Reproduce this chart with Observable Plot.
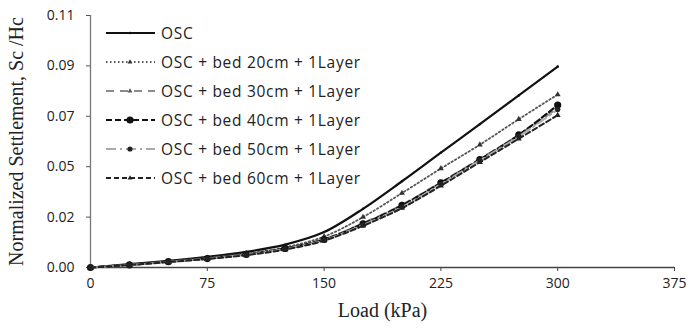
<!DOCTYPE html>
<html>
<head>
<meta charset="utf-8">
<script src="https://cdn.jsdelivr.net/npm/d3@7"></script>
<script src="https://cdn.jsdelivr.net/npm/@observablehq/plot@0.6"></script>
<style>
  html, body { margin: 0; padding: 0; background: #fff; }
  #wrap { position: relative; width: 690px; height: 328px; }
  #legend { position: absolute; left: 105px; top: 18px; font-family: "Open Sans", sans-serif; font-size: 15.5px; letter-spacing: 0.7px; color: #222; }
  #legend .row { height: 29px; display: flex; align-items: center; white-space: nowrap; }
  #legend svg { margin-right: 4px; }
  g[aria-label="x-axis label"] text, g[aria-label="y-axis label"] text { font-family: "Liberation Serif", "DejaVu Serif", serif; font-size: 20px; fill: #222; }
</style>
</head>
<body>
<div id="wrap"></div>
<script>
const loads = [0, 25, 50, 75, 100, 125, 150, 175, 200, 225, 250, 275, 300];
const osc   = [0, 0.0015, 0.0030, 0.0048, 0.0070, 0.0102, 0.0158, 0.0262, 0.0385, 0.0513, 0.0640, 0.0768, 0.0897];
const bed20 = [0, 0.0013, 0.0027, 0.0043, 0.0062, 0.0090, 0.0138, 0.0225, 0.0332, 0.0442, 0.0548, 0.0662, 0.0772];
const bed30 = [0, 0.0012, 0.0026, 0.0040, 0.0058, 0.0085, 0.0127, 0.0198, 0.0280, 0.0380, 0.0485, 0.0590, 0.0712];
const bed40 = [0, 0.0012, 0.0026, 0.0040, 0.0058, 0.0085, 0.0125, 0.0195, 0.0277, 0.0378, 0.0482, 0.0592, 0.0725];
const bed50 = [0, 0.0011, 0.0025, 0.0039, 0.0057, 0.0083, 0.0122, 0.0190, 0.0270, 0.0372, 0.0478, 0.0585, 0.0705];
const bed60 = [0, 0.0011, 0.0024, 0.0038, 0.0055, 0.0080, 0.0120, 0.0186, 0.0265, 0.0365, 0.0470, 0.0575, 0.0680];

const seriesNames = ["OSC", "OSC + bed 20cm + 1Layer", "OSC + bed 30cm + 1Layer", "OSC + bed 40cm + 1Layer", "OSC + bed 50cm + 1Layer", "OSC + bed 60cm + 1Layer"];
const seriesValues = [osc, bed20, bed30, bed40, bed50, bed60];

const xTicks = [0, 75, 150, 225, 300, 375];
const yTicks = [0, 0.0225, 0.045, 0.0675, 0.09, 0.1125];
const yTickLabels = ["0.00", "0.02", "0.05", "0.07", "0.09", "0.11"];

const styles = [
  {stroke: "#111", width: 2.2, dash: null, symbol: "circle", r: 1.2, fill: "#111"},
  {stroke: "#555", width: 1.8, dash: "1.5,2.5", symbol: "triangle", r: 2.2, fill: "#333"},
  {stroke: "#8a8a8a", width: 2, dash: "8,6", symbol: "triangle", r: 2.2, fill: "#555"},
  {stroke: "#111", width: 2.2, dash: "6,3", symbol: "circle", r: 3.6, fill: "#111"},
  {stroke: "#aaa", width: 2, dash: "10,4,2,4", symbol: "circle", r: 2.6, fill: "#222"},
  {stroke: "#222", width: 2, dash: "5,3", symbol: "triangle", r: 2.2, fill: "#222"}
];

const marks = [
  Plot.ruleY([0], {stroke: "#444", strokeWidth: 1.3}),
  Plot.ruleX([0], {stroke: "#777", strokeWidth: 1.3}),
  Plot.axisX({ticks: xTicks, tickSize: 4, tickPadding: 7, fontSize: 14, fontFamily: "Open Sans, sans-serif", stroke: "#444",
    label: "Load (kPa)", labelAnchor: "center", labelArrow: "none", labelOffset: 49}),
  Plot.axisY({ticks: yTicks, tickSize: 4, tickPadding: 12, fontSize: 14, fontFamily: "Open Sans, sans-serif", stroke: "#555",
    tickFormat: (d, i) => yTickLabels[i],
    label: "Normalized Settlement, Sc /Hc", labelAnchor: "center", labelArrow: "none", labelOffset: 82})
];

seriesValues.forEach((vals, k) => {
  const data = loads.map((l, i) => ({load: l, s: vals[i]}));
  const st = styles[k];
  marks.push(Plot.line(data, {x: "load", y: "s", stroke: st.stroke, strokeWidth: st.width, strokeDasharray: st.dash, curve: "monotone-x"}));
  marks.push(Plot.dot(data, {x: "load", y: "s", symbol: st.symbol, r: st.r, fill: st.fill, stroke: "none"}));
});

const chart = Plot.plot({
  width: 690,
  height: 328,
  marginLeft: 90,
  marginRight: 16,
  marginTop: 15,
  marginBottom: 61,
  style: {background: "#fff", color: "#222"},
  x: {domain: [0, 375]},
  y: {domain: [0, 0.1125]},
  marks
});

const wrap = document.getElementById("wrap");
wrap.appendChild(chart);

// legend
const legend = document.createElement("div");
legend.id = "legend";
seriesNames.forEach((name, k) => {
  const st = styles[k];
  const row = document.createElement("div");
  row.className = "row";
  const sym = st.symbol === "circle"
    ? `<circle cx="25" cy="6" r="${Math.max(st.r, 1.2)}" fill="${st.fill}"/>`
    : `<path d="M25,${6 - st.r * 1.2}L${25 + st.r * 1.1},${6 + st.r * 0.7}L${25 - st.r * 1.1},${6 + st.r * 0.7}Z" fill="${st.fill}"/>`;
  row.innerHTML = `<svg width="52" height="12"><line x1="1" y1="6" x2="50" y2="6" stroke="${st.stroke}" stroke-width="${st.width}" ${st.dash ? `stroke-dasharray="${st.dash}"` : ""}/>${sym}</svg><span>${name}</span>`;
  legend.appendChild(row);
});
wrap.appendChild(legend);
</script>
</body>
</html>
